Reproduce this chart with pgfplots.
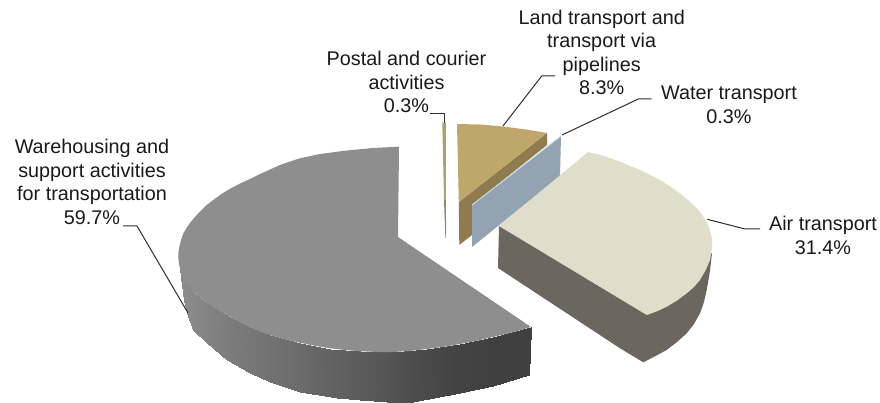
\documentclass[border=0pt]{standalone}
\usepackage{pgfplots}
\pgfplotsset{compat=1.18}
\usepackage{fontspec}
\setmainfont{Liberation Sans}
\definecolor{greytop}{RGB}{142,142,142}
\definecolor{airtop}{RGB}{222,222,203}
\definecolor{airside}{RGB}{107,103,95}
\definecolor{landtop}{RGB}{191,166,107}
\definecolor{landside}{RGB}{143,123,78}
\definecolor{water}{RGB}{148,163,177}
\definecolor{waterlight}{RGB}{205,218,230}
\definecolor{postal}{RGB}{176,160,112}
\definecolor{postallow}{RGB}{140,135,110}
\definecolor{lead}{RGB}{45,45,45}
\definecolor{txt}{RGB}{25,25,25}
\begin{document}
\begin{tikzpicture}
\useasboundingbox (0,0) rectangle (880pt,403pt);
\begin{axis}[
  at={(0,0)}, anchor=south west,
  width=880pt, height=403pt, scale only axis,
  xmin=0, xmax=880, ymin=0, ymax=403,
  y dir=reverse,
  hide axis, clip=false,
  colormap={sidegrey}{rgb255=(64,64,64) rgb255=(140,140,140)},
  point meta min=0, point meta max=1,
]
% warehousing, side wall
\addplot[patch, patch type=rectangle, shader=interp, point meta=explicit] coordinates {
  (180,268.3)[1] (183.3,278.3)[1] (181,278)[1] (180,268.3)[1]
  (183.3,278.3)[1] (193.3,291.7)[.95] (184,300)[1] (181,278)[1]
  (193.3,291.7)[.95] (200,298)[.92] (186.7,313.3)[.98] (184,300)[1]
  (200,298)[.92] (210,305)[.87] (193.3,330)[.95] (186.7,313.3)[.98]
  (210,305)[.87] (230,316.7)[.79] (206.7,343.3)[.88] (193.3,330)[.95]
  (230,316.7)[.79] (240,322)[.75] (226.7,360)[.8] (206.7,343.3)[.88]
  (240,322)[.75] (250,327.3)[.72] (250,373.3)[.72] (226.7,360)[.8]
  (250,327.3)[.72] (270,335)[.66] (270,381.7)[.66] (250,373.3)[.72]
  (270,335)[.66] (300,342.7)[.57] (300,391.7)[.57] (270,381.7)[.66]
  (300,342.7)[.57] (330,348.5)[.45] (337,398)[.43] (300,391.7)[.57]
  (330,348.5)[.45] (360,351)[.36] (360,400)[.36] (337,398)[.43]
  (360,351)[.36] (393,352)[.25] (387,402)[.27] (360,400)[.36]
  (393,352)[.25] (427,349)[.12] (413,402)[.17] (387,402)[.27]
  (427,349)[.12] (460,344)[.03] (460,393)[.03] (413,402)[.17]
  (460,344)[.03] (493,337)[0] (493,386)[0] (460,393)[.03]
  (493,337)[0] (531,327)[0] (529,375)[0] (493,386)[0]
};
% warehousing, top
\addplot[fill=greytop, draw=none] coordinates {
  (399,146.7) (373,148) (346.7,150.5) (320,154) (300,158.3) (290,161.5) (280,165)
  (270,169.5) (260,174) (250,179) (240,183.5) (230,188.8) (221,194.3) (213.3,200)
  (206,205.5) (200,211.5) (194.5,217.5) (190,223) (186.2,228.5) (183.3,233.5)
  (181,240) (179.5,246) (178.5,252) (178.3,258) (179,263.5) (180,268.3) (181.5,273.5)
  (183.3,278.3) (188,285.5) (193.3,291.7) (201,298.5) (210,305) (220,311.2) (230,316.7)
  (240,322.3) (250,327.3) (260,331.5) (270,335) (285,339.3) (300,342.7) (315,345.8)
  (330,348.3) (345,350) (360,351.2) (377,352) (393,352) (410,351) (427,349) (444,346.8)
  (460,344) (477,340.8) (493,337) (513,332.3) (531,327) (398,237)
} -- cycle;
% air transport, side wall
\addplot[fill=airside, draw=none] coordinates {
  (499,226) (498,268) (620,348.3) (643.3,362.3) (655,356.3) (666.7,350) (677,342)
  (686.7,333.3) (694,324) (700,313.3) (704,302) (706.7,290) (709,277) (710.7,265)
  (712,253) (647,300)
} -- cycle;
% land transport
\addplot[fill=landside, draw=none] coordinates {
  (458.8,202) (547,133) (547,145) (472,205) (472,235) (459.3,245)
} -- cycle;
\addplot[fill=landtop, draw=none] coordinates {
  (457,124) (480,124.5) (503,126.5) (526,129.5) (547,133) (458.8,202)
} -- cycle;
% water transport
\addplot[fill=water, draw=none] coordinates {
  (561,136) (560,176) (472,247) (472,205)
} -- cycle;
\addplot[draw=waterlight, line width=1pt] coordinates {(472,205) (561,136)};
% air transport, top
\addplot[fill=airtop, draw=none] coordinates {
  (499,226) (588,152) (600,154.8) (620,161.7) (640,170) (650,174.8) (660,180) (670,186.3)
  (680,193.3) (689,201) (696.7,208.3) (702,214.7) (706.7,221.7) (709,227.5) (710.7,233.3)
  (711.9,238.5) (712.3,243.3) (711.7,250) (710,260) (706,269.5) (700,280) (694,287)
  (686.7,293.3) (677,300.5) (666.7,306.7) (657,311.3) (646.7,315)
} -- cycle;
% postal and courier
\addplot[fill=postal, draw=none] coordinates {
  (442.3,122.7) (445.8,122.7) (445.8,200) (444,200)
} -- cycle;
\addplot[fill=postallow, draw=none] coordinates {
  (444,200) (445.8,200) (446.2,238) (445.4,238)
} -- cycle;
% leader lines
\addplot[draw=lead, line width=1pt] coordinates {(123,226) (137,226) (188,313)};
\addplot[draw=lead, line width=1pt] coordinates {(430,114) (444,114) (444,123)};
\addplot[draw=lead, line width=1pt] coordinates {(555,76) (541.7,76) (503,126)};
\addplot[draw=lead, line width=1pt] coordinates {(651.7,99) (638.3,99) (562,135)};
\addplot[draw=lead, line width=1pt] coordinates {(707.3,219.3) (745,229) (760,229)};
% labels
\tikzset{lab/.style={align=center, text=txt, inner sep=0pt, font=\fontsize{19.8}{23.5}\selectfont}}
\node[lab] at (axis cs:92,182) {Warehousing and\\support activities\\for transportation\\59.7\%};
\node[lab] at (axis cs:406.5,82) {Postal and courier\\activities\\0.3\%};
\node[lab] at (axis cs:601.7,52.5) {Land transport and\\transport via\\pipelines\\8.3\%};
\node[lab] at (axis cs:729,105) {Water transport\\0.3\%};
\node[lab] at (axis cs:823,235.5) {Air transport\\31.4\%};
\end{axis}
\end{tikzpicture}
\end{document}
